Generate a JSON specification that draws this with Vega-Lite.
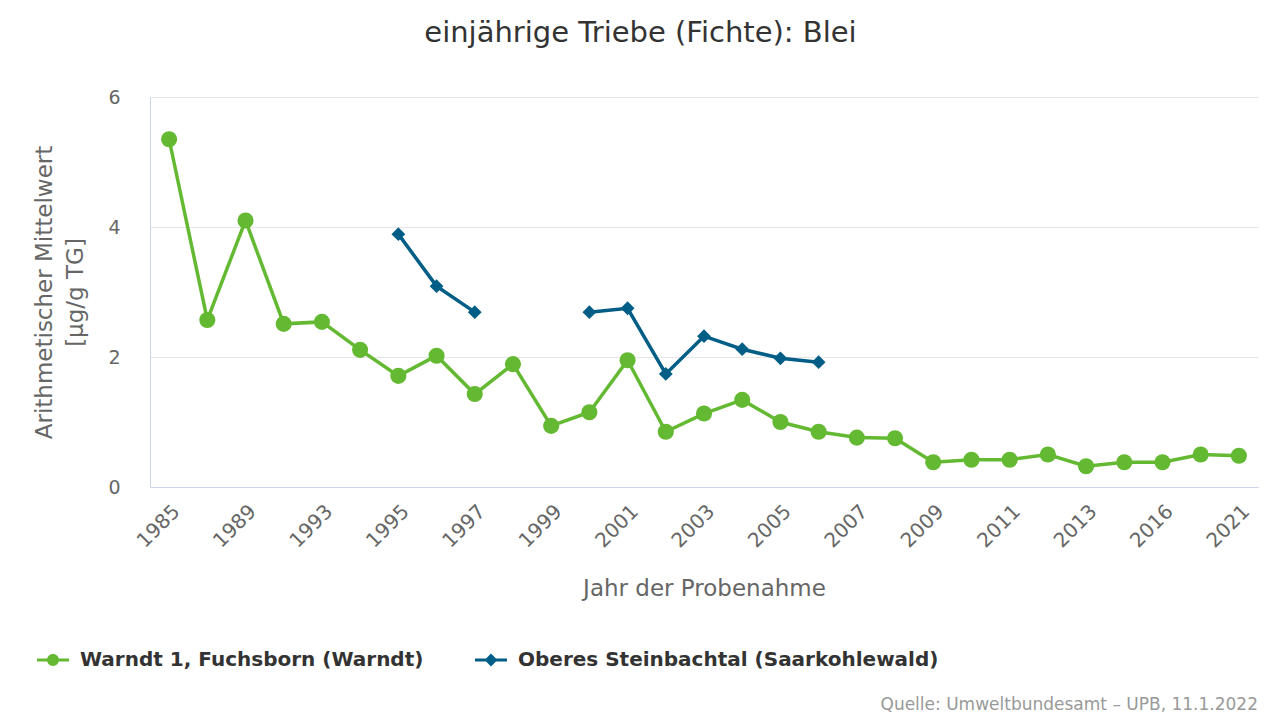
{
  "$schema": "https://vega.github.io/schema/vega-lite/v6.json",
  "width": 1108,
  "height": 390,
  "autosize": {"type": "none"},
  "padding": {"left": 150, "top": 97, "right": 22, "bottom": 233},
  "background": "white",
  "config": {
    "font": "DejaVu Sans",
    "view": {"stroke": null}
  },
  "title": {
    "text": "Quelle: Umweltbundesamt – UPB, 11.1.2022",
    "orient": "bottom",
    "anchor": "end",
    "fontSize": 17,
    "fontWeight": "normal",
    "color": "#999999",
    "offset": 27
  },
  "data": {
    "values": [
      {"Jahr": "1985", "Wert": 5.35, "Reihe": "Warndt 1, Fuchsborn (Warndt)", "Segment": "W"},
      {"Jahr": "1987", "Wert": 2.57, "Reihe": "Warndt 1, Fuchsborn (Warndt)", "Segment": "W"},
      {"Jahr": "1989", "Wert": 4.1, "Reihe": "Warndt 1, Fuchsborn (Warndt)", "Segment": "W"},
      {"Jahr": "1991", "Wert": 2.51, "Reihe": "Warndt 1, Fuchsborn (Warndt)", "Segment": "W"},
      {"Jahr": "1993", "Wert": 2.54, "Reihe": "Warndt 1, Fuchsborn (Warndt)", "Segment": "W"},
      {"Jahr": "1994", "Wert": 2.11, "Reihe": "Warndt 1, Fuchsborn (Warndt)", "Segment": "W"},
      {"Jahr": "1995", "Wert": 1.71, "Reihe": "Warndt 1, Fuchsborn (Warndt)", "Segment": "W"},
      {"Jahr": "1996", "Wert": 2.02, "Reihe": "Warndt 1, Fuchsborn (Warndt)", "Segment": "W"},
      {"Jahr": "1997", "Wert": 1.43, "Reihe": "Warndt 1, Fuchsborn (Warndt)", "Segment": "W"},
      {"Jahr": "1998", "Wert": 1.89, "Reihe": "Warndt 1, Fuchsborn (Warndt)", "Segment": "W"},
      {"Jahr": "1999", "Wert": 0.94, "Reihe": "Warndt 1, Fuchsborn (Warndt)", "Segment": "W"},
      {"Jahr": "2000", "Wert": 1.15, "Reihe": "Warndt 1, Fuchsborn (Warndt)", "Segment": "W"},
      {"Jahr": "2001", "Wert": 1.95, "Reihe": "Warndt 1, Fuchsborn (Warndt)", "Segment": "W"},
      {"Jahr": "2002", "Wert": 0.85, "Reihe": "Warndt 1, Fuchsborn (Warndt)", "Segment": "W"},
      {"Jahr": "2003", "Wert": 1.13, "Reihe": "Warndt 1, Fuchsborn (Warndt)", "Segment": "W"},
      {"Jahr": "2004", "Wert": 1.34, "Reihe": "Warndt 1, Fuchsborn (Warndt)", "Segment": "W"},
      {"Jahr": "2005", "Wert": 1.0, "Reihe": "Warndt 1, Fuchsborn (Warndt)", "Segment": "W"},
      {"Jahr": "2006", "Wert": 0.85, "Reihe": "Warndt 1, Fuchsborn (Warndt)", "Segment": "W"},
      {"Jahr": "2007", "Wert": 0.76, "Reihe": "Warndt 1, Fuchsborn (Warndt)", "Segment": "W"},
      {"Jahr": "2008", "Wert": 0.75, "Reihe": "Warndt 1, Fuchsborn (Warndt)", "Segment": "W"},
      {"Jahr": "2009", "Wert": 0.38, "Reihe": "Warndt 1, Fuchsborn (Warndt)", "Segment": "W"},
      {"Jahr": "2010", "Wert": 0.42, "Reihe": "Warndt 1, Fuchsborn (Warndt)", "Segment": "W"},
      {"Jahr": "2011", "Wert": 0.42, "Reihe": "Warndt 1, Fuchsborn (Warndt)", "Segment": "W"},
      {"Jahr": "2012", "Wert": 0.5, "Reihe": "Warndt 1, Fuchsborn (Warndt)", "Segment": "W"},
      {"Jahr": "2013", "Wert": 0.32, "Reihe": "Warndt 1, Fuchsborn (Warndt)", "Segment": "W"},
      {"Jahr": "2015", "Wert": 0.38, "Reihe": "Warndt 1, Fuchsborn (Warndt)", "Segment": "W"},
      {"Jahr": "2016", "Wert": 0.38, "Reihe": "Warndt 1, Fuchsborn (Warndt)", "Segment": "W"},
      {"Jahr": "2019", "Wert": 0.5, "Reihe": "Warndt 1, Fuchsborn (Warndt)", "Segment": "W"},
      {"Jahr": "2021", "Wert": 0.48, "Reihe": "Warndt 1, Fuchsborn (Warndt)", "Segment": "W"},
      {"Jahr": "1995", "Wert": 3.89, "Reihe": "Oberes Steinbachtal (Saarkohlewald)", "Segment": "S1"},
      {"Jahr": "1996", "Wert": 3.09, "Reihe": "Oberes Steinbachtal (Saarkohlewald)", "Segment": "S1"},
      {"Jahr": "1997", "Wert": 2.69, "Reihe": "Oberes Steinbachtal (Saarkohlewald)", "Segment": "S1"},
      {"Jahr": "2000", "Wert": 2.69, "Reihe": "Oberes Steinbachtal (Saarkohlewald)", "Segment": "S2"},
      {"Jahr": "2001", "Wert": 2.75, "Reihe": "Oberes Steinbachtal (Saarkohlewald)", "Segment": "S2"},
      {"Jahr": "2002", "Wert": 1.74, "Reihe": "Oberes Steinbachtal (Saarkohlewald)", "Segment": "S2"},
      {"Jahr": "2003", "Wert": 2.32, "Reihe": "Oberes Steinbachtal (Saarkohlewald)", "Segment": "S2"},
      {"Jahr": "2004", "Wert": 2.12, "Reihe": "Oberes Steinbachtal (Saarkohlewald)", "Segment": "S2"},
      {"Jahr": "2005", "Wert": 1.98, "Reihe": "Oberes Steinbachtal (Saarkohlewald)", "Segment": "S2"},
      {"Jahr": "2006", "Wert": 1.92, "Reihe": "Oberes Steinbachtal (Saarkohlewald)", "Segment": "S2"}
    ]
  },
  "encoding": {
    "y": {
      "field": "Wert",
      "type": "quantitative",
      "scale": {"domain": [0, 6], "nice": false},
      "axis": {
        "values": [0, 2, 4, 6],
        "title": ["Arithmetischer Mittelwert", "[µg/g TG]"],
        "titleFontSize": 23,
        "titleFontWeight": "normal",
        "titleColor": "#666666",
        "titleLineHeight": 31,
        "titlePadding": 20,
        "labelFontSize": 19,
        "labelColor": "#666666",
        "labelPadding": 30,
        "ticks": false,
        "domain": true,
        "domainColor": "#ccd6eb",
        "gridColor": "#e6e6e6"
      }
    },
    "color": {
      "field": "Reihe",
      "type": "nominal",
      "scale": {
        "domain": ["Warndt 1, Fuchsborn (Warndt)", "Oberes Steinbachtal (Saarkohlewald)"],
        "range": ["#64b932", "#005e86"]
      },
      "legend": {
        "title": null,
        "orient": "none",
        "direction": "horizontal",
        "legendX": -113,
        "legendY": 547,
        "labelFontSize": 20,
        "labelFontWeight": "bold",
        "labelColor": "#333333",
        "labelOffset": 11,
        "columnPadding": 51,
        "symbolSize": 1024,
        "symbolType": "circle",
        "labelLimit": 500,
        "encode": {
          "symbols": {
            "update": {
              "shape": {"signal": "datum.value === 'Warndt 1, Fuchsborn (Warndt)' ? 'M-1,-0.1H-0.3V0.1H-1Z M0.3,-0.1H1V0.1H0.3Z M0.37,0A0.37,0.37 0 1,1 -0.37,0A0.37,0.37 0 1,1 0.37,0Z' : 'M-1,-0.1H-0.3V0.1H-1Z M0.3,-0.1H1V0.1H0.3Z M0,-0.4L0.4,0L0,0.4L-0.4,0Z'"},
              "fill": {"signal": "datum.value === 'Warndt 1, Fuchsborn (Warndt)' ? '#64b932' : '#005e86'"},
              "stroke": {"value": "transparent"},
              "strokeWidth": {"value": 0},
              "size": {"value": 1024},
              "opacity": {"value": 1}
            }
          }
        }
      }
    }
  },
  "layer": [
    {
      "mark": {"type": "line", "strokeWidth": 3.5},
      "encoding": {
        "x": {
          "field": "Jahr",
          "type": "ordinal",
          "axis": {
            "values": ["1985", "1989", "1993", "1995", "1997", "1999", "2001", "2003", "2005", "2007", "2009", "2011", "2013", "2016", "2021"],
            "labelAngle": -45,
            "labelFontSize": 20,
            "labelColor": "#666666",
            "labelPadding": 14,
            "ticks": false,
            "domainColor": "#ccd6eb",
            "grid": false,
            "title": "Jahr der Probenahme",
            "titleFontSize": 23,
            "titleFontWeight": "normal",
            "titleColor": "#666666",
            "titlePadding": 26
          }
        },
        "detail": {"field": "Segment", "type": "nominal"}
      }
    },
    {
      "transform": [{"filter": "datum.Reihe === 'Warndt 1, Fuchsborn (Warndt)'"}],
      "mark": {"type": "point", "filled": true, "opacity": 1, "shape": "circle", "size": 260},
      "encoding": {
        "x": {
          "field": "Jahr",
          "type": "ordinal",
          "axis": {
            "orient": "top",
            "labels": false,
            "ticks": false,
            "domain": false,
            "grid": false,
            "title": "einjährige Triebe (Fichte): Blei",
            "titleFontSize": 29,
            "titleFontWeight": "normal",
            "titleColor": "#333333",
            "titleX": 490,
            "titleY": -65,
            "titleBaseline": "middle",
            "titleAlign": "center"
          }
        }
      }
    },
    {
      "transform": [{"filter": "datum.Reihe === 'Oberes Steinbachtal (Saarkohlewald)'"}],
      "mark": {"type": "point", "filled": true, "opacity": 1, "shape": "diamond", "size": 190},
      "encoding": {
        "x": {"field": "Jahr", "type": "ordinal", "axis": null}
      }
    }
  ],
  "resolve": {"axis": {"x": "independent"}}
}
